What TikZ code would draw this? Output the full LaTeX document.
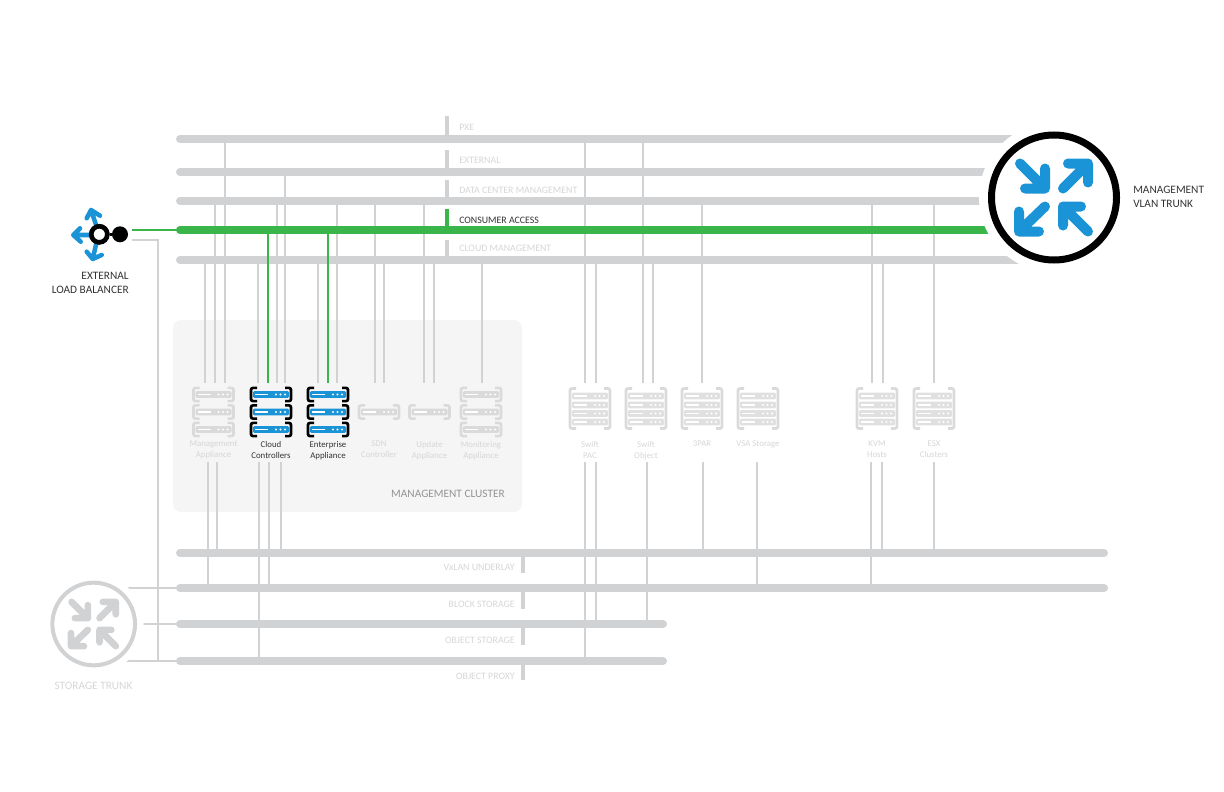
\documentclass[tikz,border=0pt]{standalone}
\usepackage{fontspec}
\setmainfont{Carlito}
\definecolor{busgrey}{HTML}{D1D2D4}
\definecolor{fadegrey}{HTML}{DADADA}
\definecolor{racktone}{HTML}{E0E0E0}
\definecolor{fadetext}{HTML}{D6D6D6}
\definecolor{darktext}{HTML}{333333}
\definecolor{paneltone}{HTML}{F5F5F5}
\definecolor{hpgreen}{HTML}{39B54A}
\definecolor{hpblue}{HTML}{1A94D6}
\tikzset{
    pics/brackets/.style 2 args={code={
        \draw[#2, line width=2pt, rounded corners=1.5pt] (-14,-#1) -- (-20,-#1) -- (-20,#1) -- (-14,#1);
        \draw[#2, line width=2pt, rounded corners=1.5pt] (14,-#1) -- (20,-#1) -- (20,#1) -- (14,#1);
    }},
    pics/barunit/.style={code={
        \fill[#1, rounded corners=0.8pt] (-18,-3.3) rectangle (18,3.3);
        \draw[white, line width=0.9pt] (-16,0) -- (-3,0);
        \foreach \dotx in {5,9.5,14} \fill[white] (\dotx,0) circle (1.2);
    }},
    pics/trunkarrows/.style 2 args={code={
        \begin{scope}[draw=#1, line width=#2, line cap=round, line join=round]
        \draw (-34,-34) -- (-9,-9) (-9,-29) -- (-9,-9) -- (-29,-9);
        \draw (9,-9) -- (34,-34) (14,-34) -- (34,-34) -- (34,-15);
        \draw (-9,9) -- (-35,34) (-35,14) -- (-35,34) -- (-15,34);
        \draw (34,34) -- (9,9) (9,28) -- (9,9) -- (27,9);
        \end{scope}
    }}
}
\begin{document}
\begin{tikzpicture}[
        x=0.75pt, y=-0.75pt,
        bus/.style={line width=6pt, line cap=round, busgrey},
        link/.style={line width=1.5pt, busgrey},
        greenlink/.style={line width=1.5pt, hpgreen},
        labeltick/.style={line width=3pt},
        srvslot/.style={minimum width=33pt, minimum height=59.25pt, inner sep=0pt, outer sep=0pt},
        srvlabel/.style={font=\fontsize{6.6}{8.2}\selectfont, align=center, anchor=north, inner sep=0pt},
        buslabel/.style={font=\fontsize{7.4}{8}\selectfont, inner sep=0pt},
        biglabel/.style={font=\fontsize{8.5}{11}\selectfont, inner sep=0pt}
    ]
    \useasboundingbox (0,0) rectangle (1224,792);
    % Cluster panel
    \node[fill=paneltone, rounded corners=6pt, minimum width=261.75pt, minimum height=144pt, inner sep=0pt] (panel) at (347.5,416) {};
    \node[biglabel, text=gray!85, anchor=east] (panellabel) at (505,494) {MANAGEMENT CLUSTER};
    % Server slots and labels
    \foreach \name/\xx/\lab/\tc in {
        mgmt/213.5/{Management\\Appliance}/fadetext, ctrl/271/{Cloud\\Controllers}/darktext,
        ent/328/{Enterprise\\Appliance}/darktext, sdn/379/{SDN\\Controller}/fadetext,
        upd/429.5/{Update\\Appliance}/fadetext, mon/481/{Monitoring\\Appliance}/fadetext,
        spac/590/{Swift\\PAC}/fadetext, sobj/646/{Swift\\Object}/fadetext,
        par/702/{3PAR}/fadetext, vsa/758/{VSA Storage}/fadetext,
        kvm/877/{KVM\\Hosts}/fadetext, esx/934/{ESX\\Clusters}/fadetext} {
        \node[srvslot] (\name) at (\xx,422.5) {};
        \node[srvlabel, text=\tc] (\name label) at (\xx,441) {\lab};
    }
    % Buses
    \foreach \name/\yy/\xr in {pxe/139/1030, ext/172/1030, dcm/201/1030, cloud/260/1030,
        vxlan/553/1104, block/588/1104, objstore/624/663, proxy/661/663} {
        \coordinate (\name) at (180,\yy);
        \draw[bus] (\name) -- (\xr,\yy);
    }
    \coordinate (consumer) at (180,230);
    % Links from the upper buses down to the servers
    \foreach \xx/\from/\to in {205/cloud/mgmt, 215/dcm/mgmt, 225/pxe/mgmt, 258/cloud/ctrl, 277/dcm/ctrl,
        285/ext/ctrl, 318/cloud/ent, 337/dcm/ent, 375/dcm/sdn, 384/cloud/sdn, 424/dcm/upd, 434/cloud/upd,
        482/cloud/mon, 585/pxe/spac, 596/cloud/spac, 643/pxe/sobj, 653/cloud/sobj, 702/dcm/par,
        872/dcm/kvm, 883/cloud/kvm, 934/dcm/esx}
        \draw[link] (\xx,0 |- \from) -- (\xx,0 |- \to.north);
    % Links from the servers down to the lower buses
    \foreach \xx/\from/\to in {208/mgmt/block, 217/mgmt/vxlan, 259/ctrl/proxy, 269/ctrl/block, 281/ctrl/vxlan,
        585/spac/proxy, 596/spac/objstore, 647/sobj/objstore, 703/par/vxlan, 757/vsa/block,
        871/kvm/block, 882/kvm/vxlan, 934/esx/vxlan}
        \draw[link] (\xx,0 |- \from.south) -- (\xx,0 |- \to);
    % Consumer access
    \foreach \xx/\to in {268/ctrl, 328/ent}
        \draw[greenlink] (\xx,0 |- consumer) -- (\xx,0 |- \to.north);
    \draw[bus, hpgreen] (consumer) -- (1030,230);
    % Bus labels
    \foreach \name/\txt/\yy/\ya/\yb/\tc/\kc in {
        lpxe/PXE/127/116/135/fadetext/busgrey, lext/EXTERNAL/160/150/168/fadetext/busgrey,
        ldcm/DATA CENTER MANAGEMENT/190/180/197/fadetext/busgrey,
        lcon/CONSUMER ACCESS/220/209/227/darktext/hpgreen,
        lclo/CLOUD MANAGEMENT/248/240/256/fadetext/busgrey} {
        \draw[labeltick, \kc] (447,\ya) -- (447,\yb);
        \node[buslabel, text=\tc, anchor=west] (\name) at (459,\yy) {\txt};
    }
    \foreach \name/\txt/\yy/\ya/\yb in {
        lvx/VxLAN UNDERLAY/567/557/573, lblo/BLOCK STORAGE/604/592/609,
        lobj/OBJECT STORAGE/640/628/645, lpro/OBJECT PROXY/676/665/680} {
        \draw[labeltick, busgrey] (523,\ya) -- (523,\yb);
        \node[buslabel, text=fadetext, anchor=east] (\name) at (515,\yy) {\txt};
    }
    % Stacked appliances
    \foreach \xx/\brk/\bar in {213.5/fadegrey/fadegrey, 271/black/hpblue, 328/black/hpblue, 481/fadegrey/fadegrey}
        \foreach \yy in {394.5,412,429.5} {
            \pic at (\xx,\yy) {brackets={6.6}{\brk}};
            \pic at (\xx,\yy) {barunit=\bar};
        }
    \foreach \xx in {379,429.5} {
        \pic at (\xx,412) {brackets={6.6}{fadegrey}};
        \pic at (\xx,412) {barunit=fadegrey};
    }
    % Racks
    \foreach \xx in {590,646,702,758,877,934} {
        \pic at (\xx,408.5) {brackets={20}{fadegrey}};
        \foreach \yy in {396,405,413.5,422}
            \pic at (\xx,\yy) {barunit=racktone};
    }
    % Management trunk
    \fill[white] (1054,197.5) circle (75);
    \node[circle, draw=black, line width=5.25pt, fill=white, minimum size=93.75pt, inner sep=0pt] (mgmttrunk) at (1054,197.5) {};
    \pic at (mgmttrunk) {trunkarrows={hpblue}{7.5pt}};
    \node[biglabel, text=darktext, align=left, anchor=west] (mgmttrunklabel) at (1133,197) {MANAGEMENT\\VLAN TRUNK};
    % Storage trunk
    \coordinate (trunkdrop) at (93.7,624);
    \foreach \name in {block,objstore,proxy}
        \draw[link] (\name) -- (trunkdrop |- \name);
    \fill[white] (trunkdrop) circle (50);
    \node[circle, draw=busgrey, line width=3pt, fill=white, minimum size=62pt, inner sep=0pt] (storagetrunk) at (trunkdrop) {};
    \pic[scale=0.65] at (storagetrunk) {trunkarrows={busgrey}{5pt}};
    \node[biglabel, text=fadetext] (storagelabel) at (93.5,686) {STORAGE TRUNK};
    % External load balancer
    \foreach \tx/\ty/\ax/\ay/\bx/\by/\sx/\sy in {
        91/210/86.7/218.3/100/215.7/96.7/226.7,
        73.3/235/80/228.3/80.7/241.7/89/235,
        92.7/259/86.7/251.7/101.7/255/96.7/241.7}
        \draw[hpblue, line width=3.4pt, line cap=round, line join=round]
            (\sx,\sy) -- (\tx,\ty) (\ax,\ay) -- (\tx,\ty) -- (\bx,\by);
    \node[circle, fill=black, minimum size=12pt, inner sep=0pt] (lbdot) at (120,234.3) {};
    \node[circle, draw=black, line width=3.4pt, fill=white, minimum size=12pt, inner sep=0pt] (lbring) at (99.3,234.3) {};
    \draw[black, line width=2pt] (lbring) -- (lbdot);
    \node[circle, draw=black, line width=3.4pt, fill=white, minimum size=12pt, inner sep=0pt] at (lbring) {};
    \node[biglabel, text=darktext, align=right, anchor=east] (lblabel) at (129,283) {EXTERNAL\\LOAD BALANCER};
    \coordinate (lbgreen) at (132,229.5);
    \coordinate (lbgrey) at (132,240);
    \coordinate (lbdrop) at (158,661);
    \draw[greenlink] (lbgreen) -- (consumer |- lbgreen);
    \draw[link] (lbgrey) -| (lbdrop);
\end{tikzpicture}
\end{document}
